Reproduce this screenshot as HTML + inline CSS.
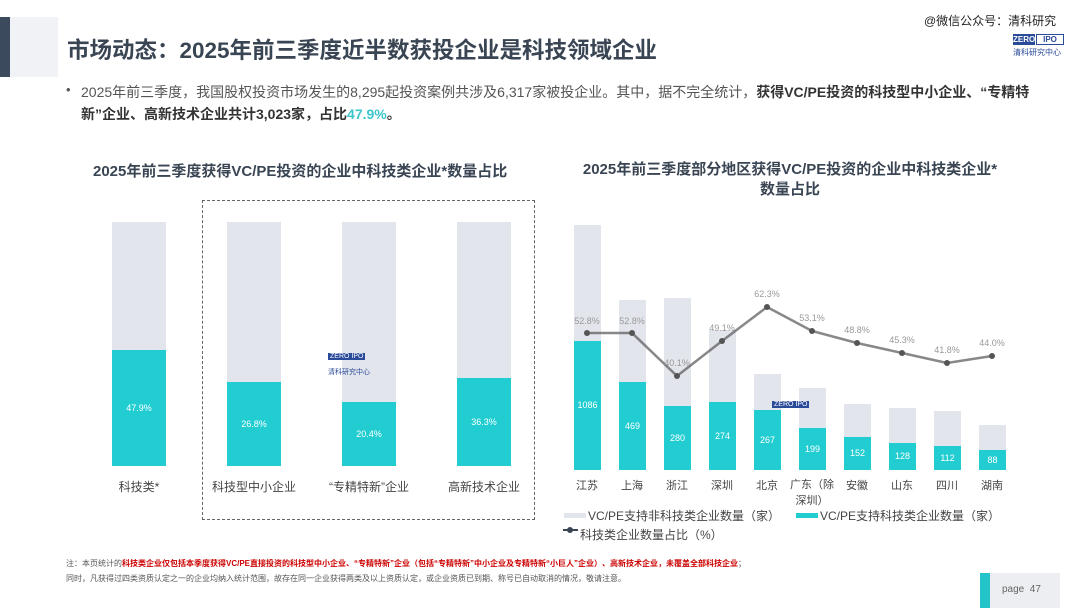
<!DOCTYPE html>
<html><head><meta charset="utf-8"><style>
body{margin:0;width:1080px;height:608px;background:#fff;position:relative;overflow:hidden;font-family:"Liberation Sans","Noto Sans CJK SC",sans-serif;}
.a{position:absolute;white-space:nowrap;}
.g{position:absolute;background:#e3e5ec;}
.t{position:absolute;background:#22cdd2;color:#fff;font-size:9px;text-align:center;}
.lab{position:absolute;font-size:12px;color:#444;text-align:center;width:80px;}
</style></head><body>
<div class="a" style="left:0;top:17px;width:10px;height:60px;background:#3b4a5c"></div>
<div class="a" style="left:10px;top:17px;width:48px;height:60px;background:#f1f2f5"></div>
<div class="a" style="left:67px;top:33px;font-size:22.5px;font-weight:bold;color:#3a4554">市场动态：2025年前三季度近半数获投企业是科技领域企业</div>
<div class="a" style="left:924px;top:12px;font-size:12px;color:#222">@微信公众号：清科研究</div>
<div class="a" style="left:1013px;top:34px;width:22px;height:11px;background:#2a4a9a;color:#fff;font-size:8px;line-height:11px;font-weight:bold">ZERO</div>
<div class="a" style="left:1036px;top:34px;width:28px;height:11px;border:1px solid #2a4a9a;box-sizing:border-box;color:#2a4a9a;font-size:8px;line-height:9px;font-weight:bold;text-align:center">IPO</div>
<div class="a" style="left:1013px;top:47px;font-size:8px;color:#2a4a9a">清科研究中心</div>
<div class="a" style="left:66px;top:82px;font-size:13px;color:#555">•</div>
<div class="a" style="left:81px;top:81px;font-size:14px;color:#555;line-height:22px">2025年前三季度，我国股权投资市场发生的8,295起投资案例共涉及6,317家被投企业。其中，据不完全统计，<b style="color:#333">获得VC/PE投资的科技型中小企业、“专精特</b><br><b style="color:#333">新”企业、高新技术企业共计3,023家，占比</b><b style="color:#3cc6cc">47.9%</b><b style="color:#333">。</b></div>

<div class="a" style="left:93px;top:160px;font-size:15px;font-weight:bold;color:#3a4554">2025年前三季度获得VC/PE投资的企业中科技类企业*数量占比</div>
<div class="a" style="left:202px;top:200px;width:333px;height:320px;border:1px dashed #666;box-sizing:border-box"></div>
<div class="g" style="left:112px;top:222px;width:54px;height:244px"></div><div class="t" style="left:112px;top:350px;width:54px;height:116px;line-height:116px">47.9%</div>
<div class="g" style="left:227px;top:222px;width:54px;height:244px"></div><div class="t" style="left:227px;top:382px;width:54px;height:84px;line-height:84px">26.8%</div>
<div class="g" style="left:342px;top:222px;width:54px;height:244px"></div><div class="t" style="left:342px;top:402px;width:54px;height:64px;line-height:64px">20.4%</div>
<div class="g" style="left:457px;top:222px;width:54px;height:244px"></div><div class="t" style="left:457px;top:378px;width:54px;height:88px;line-height:88px">36.3%</div>
<div class="lab" style="left:99px;top:478px;width:80px">科技类*</div>
<div class="lab" style="left:194px;top:478px;width:120px">科技型中小企业</div>
<div class="lab" style="left:309px;top:478px;width:120px">“专精特新”企业</div>
<div class="lab" style="left:424px;top:478px;width:120px">高新技术企业</div>
<div class="a" style="left:328px;top:353px;font-size:7px;color:#fff;background:#2a4a9a;padding:0 2px">ZERO IPO</div>
<div class="a" style="left:328px;top:367px;font-size:7px;color:#2a4a9a">清科研究中心</div>

<div class="a" style="left:572px;top:160px;font-size:15px;font-weight:bold;color:#3a4554;text-align:center;width:436px;white-space:normal;line-height:20px">2025年前三季度部分地区获得VC/PE投资的企业中科技类企业*<br>数量占比</div>
<div class="g" style="left:574px;top:225px;width:27px;height:245px"></div><div class="t" style="left:574px;top:341px;width:27px;height:129px;line-height:129px">1086</div>
<div class="g" style="left:619px;top:300px;width:27px;height:170px"></div><div class="t" style="left:619px;top:382px;width:27px;height:88px;line-height:88px">469</div>
<div class="g" style="left:664px;top:298px;width:27px;height:172px"></div><div class="t" style="left:664px;top:406px;width:27px;height:64px;line-height:64px">280</div>
<div class="g" style="left:709px;top:330px;width:27px;height:140px"></div><div class="t" style="left:709px;top:402px;width:27px;height:68px;line-height:68px">274</div>
<div class="g" style="left:754px;top:374px;width:27px;height:96px"></div><div class="t" style="left:754px;top:410px;width:27px;height:60px;line-height:60px">267</div>
<div class="g" style="left:799px;top:388px;width:27px;height:82px"></div><div class="t" style="left:799px;top:428px;width:27px;height:42px;line-height:42px">199</div>
<div class="g" style="left:844px;top:404px;width:27px;height:66px"></div><div class="t" style="left:844px;top:437px;width:27px;height:33px;line-height:33px">152</div>
<div class="g" style="left:889px;top:408px;width:27px;height:62px"></div><div class="t" style="left:889px;top:443px;width:27px;height:27px;line-height:27px">128</div>
<div class="g" style="left:934px;top:411px;width:27px;height:59px"></div><div class="t" style="left:934px;top:446px;width:27px;height:24px;line-height:24px">112</div>
<div class="g" style="left:979px;top:425px;width:27px;height:45px"></div><div class="t" style="left:979px;top:450px;width:27px;height:20px;line-height:20px">88</div>
<svg class="a" style="left:0;top:0" width="1080" height="608">
<polyline points="587,333 632,333 677,376 722,341 767,307 812,331 857,343 902,353 947,363 992,356" fill="none" stroke="#555" stroke-width="2.5" opacity="0.7"/>
<g fill="#555"><circle cx="587" cy="333" r="3"/><circle cx="632" cy="333" r="3"/><circle cx="677" cy="376" r="3"/><circle cx="722" cy="341" r="3"/><circle cx="767" cy="307" r="3"/><circle cx="812" cy="331" r="3"/><circle cx="857" cy="343" r="3"/><circle cx="902" cy="353" r="3"/><circle cx="947" cy="363" r="3"/><circle cx="992" cy="356" r="3"/></g>
<g font-size="9" fill="#999" text-anchor="middle" font-family="Liberation Sans">
<text x="587" y="324">52.8%</text><text x="632" y="324">52.8%</text><text x="677" y="366">40.1%</text><text x="722" y="331">49.1%</text><text x="767" y="297">62.3%</text><text x="812" y="321">53.1%</text><text x="857" y="333">48.8%</text><text x="902" y="343">45.3%</text><text x="947" y="353">41.8%</text><text x="992" y="346">44.0%</text></g>
<line x1="563" y1="530" x2="578" y2="530" stroke="#3a4554" stroke-width="2"/><circle cx="570" cy="530" r="3" fill="#3a4554"/>
</svg>
<div class="lab" style="left:567px;top:477px;width:40px;font-size:11px">江苏</div>
<div class="lab" style="left:612px;top:477px;width:40px;font-size:11px">上海</div>
<div class="lab" style="left:657px;top:477px;width:40px;font-size:11px">浙江</div>
<div class="lab" style="left:702px;top:477px;width:40px;font-size:11px">深圳</div>
<div class="lab" style="left:747px;top:477px;width:40px;font-size:11px">北京</div>
<div class="lab" style="left:782px;top:477px;width:60px;font-size:11px;line-height:16px;white-space:normal">广东（除<br>深圳）</div>
<div class="lab" style="left:837px;top:477px;width:40px;font-size:11px">安徽</div>
<div class="lab" style="left:882px;top:477px;width:40px;font-size:11px">山东</div>
<div class="lab" style="left:927px;top:477px;width:40px;font-size:11px">四川</div>
<div class="lab" style="left:972px;top:477px;width:40px;font-size:11px">湖南</div>
<div class="a" style="left:772px;top:401px;font-size:7px;color:#fff;background:#2a4a9a;padding:0 2px">ZERO IPO</div>
<div class="a" style="left:564px;top:513px;width:22px;height:5px;background:#e3e5ec"></div>
<div class="a" style="left:588px;top:507px;font-size:12px;color:#444">VC/PE支持非科技类企业数量（家）</div>
<div class="a" style="left:796px;top:513px;width:22px;height:5px;background:#22cdd2"></div>
<div class="a" style="left:820px;top:507px;font-size:12px;color:#444">VC/PE支持科技类企业数量（家）</div>
<div class="a" style="left:580px;top:526px;font-size:12px;color:#444">科技类企业数量占比（%）</div>

<div class="a" style="left:66px;top:558px;font-size:8px;color:#555">注：本页统计的<b style="color:#c00">科技类企业仅包括本季度获得VC/PE直接投资的科技型中小企业、“专精特新”企业（包括“专精特新”中小企业及专精特新“小巨人”企业）、高新技术企业，未覆盖全部科技企业</b>；</div>
<div class="a" style="left:66px;top:573px;font-size:8px;color:#555">同时，凡获得过四类资质认定之一的企业均纳入统计范围，故存在同一企业获得两类及以上资质认定，或企业资质已到期、称号已自动取消的情况，敬请注意。</div>
<div class="a" style="left:980px;top:573px;width:80px;height:35px;background:#eceef2"></div>
<div class="a" style="left:980px;top:573px;width:10px;height:35px;background:#22c3c9"></div>
<div class="a" style="left:1002px;top:584px;font-size:10px;color:#666">page&nbsp; 47</div>
</body></html>
